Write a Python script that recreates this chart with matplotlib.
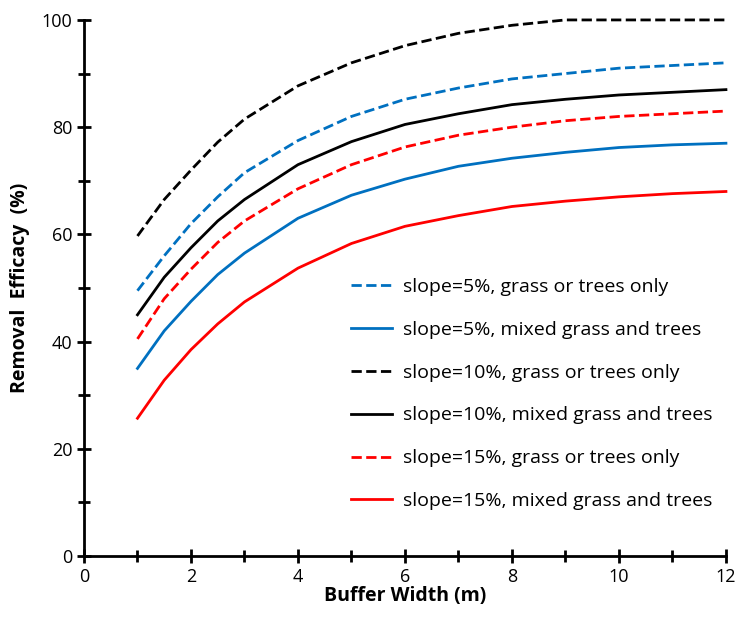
import numpy as np
import matplotlib.pyplot as plt
from matplotlib.ticker import MultipleLocator

plt.rcParams['font.family'] = ['Open Sans', 'DejaVu Sans']

width = [1, 1.5, 2, 2.5, 3, 4, 5, 6, 7, 8, 9, 10, 11, 12]

s5_single = [49.5, 56, 62, 67, 71.5, 77.5, 82, 85.2, 87.3, 89, 90, 91, 91.5, 92]
s5_mixed = [35, 42, 47.5, 52.5, 56.5, 63, 67.3, 70.3, 72.7, 74.2, 75.3, 76.2, 76.7, 77]
s10_single = [59.7, 66.5, 72, 77.2, 81.5, 87.7, 92, 95.2, 97.5, 99, 100, 100, 100, 100]
s10_mixed = [45, 52, 57.5, 62.5, 66.5, 73, 77.3, 80.5, 82.5, 84.2, 85.2, 86, 86.5, 87]
s15_single = [40.5, 48, 53.5, 58.5, 62.5, 68.5, 73, 76.3, 78.5, 80, 81.2, 82, 82.5, 83]
s15_mixed = [25.7, 32.8, 38.5, 43.3, 47.4, 53.7, 58.3, 61.5, 63.5, 65.2, 66.2, 67, 67.6, 68]

blue = '#0070C0'
red = '#FF0000'

fig = plt.figure(figsize=(7.4, 6.23), dpi=100)
ax = fig.add_axes([0.1135, 0.1075, 0.8675, 0.8605])

ax.plot(width, s5_single, '--', color=blue, lw=2, label='slope=5%, grass or trees only', clip_on=False)
ax.plot(width, s5_mixed, '-', color=blue, lw=2, label='slope=5%, mixed grass and trees', clip_on=False)
ax.plot(width, s10_single, '--', color='black', lw=2, label='slope=10%, grass or trees only', clip_on=False)
ax.plot(width, s10_mixed, '-', color='black', lw=2, label='slope=10%, mixed grass and trees', clip_on=False)
ax.plot(width, s15_single, '--', color=red, lw=2, label='slope=15%, grass or trees only', clip_on=False)
ax.plot(width, s15_mixed, '-', color=red, lw=2, label='slope=15%, mixed grass and trees', clip_on=False)

ax.set_xlim(0, 12)
ax.set_ylim(0, 100)
ax.xaxis.set_major_locator(MultipleLocator(2))
ax.xaxis.set_minor_locator(MultipleLocator(1))
ax.yaxis.set_major_locator(MultipleLocator(20))
ax.yaxis.set_minor_locator(MultipleLocator(10))

for side in ['top', 'right']:
    ax.spines[side].set_visible(False)
for side in ['left', 'bottom']:
    ax.spines[side].set_linewidth(2)

ax.tick_params(which='both', direction='inout', width=2, labelsize=13)
ax.tick_params(which='major', length=10)
ax.tick_params(which='minor', length=8)

ax.set_xlabel('Buffer Width (m)', fontsize=14, fontweight='bold', labelpad=0)
ax.set_ylabel('Removal  Efficacy  (%)', fontsize=14, fontweight='bold', labelpad=8)

ax.legend(loc='lower right', bbox_to_anchor=(1.0, 0.06), frameon=False, fontsize=14,
          handlelength=2.1, handletextpad=0.55, labelspacing=1.28, borderpad=0.2)

fig.savefig('out.png', dpi=100)
